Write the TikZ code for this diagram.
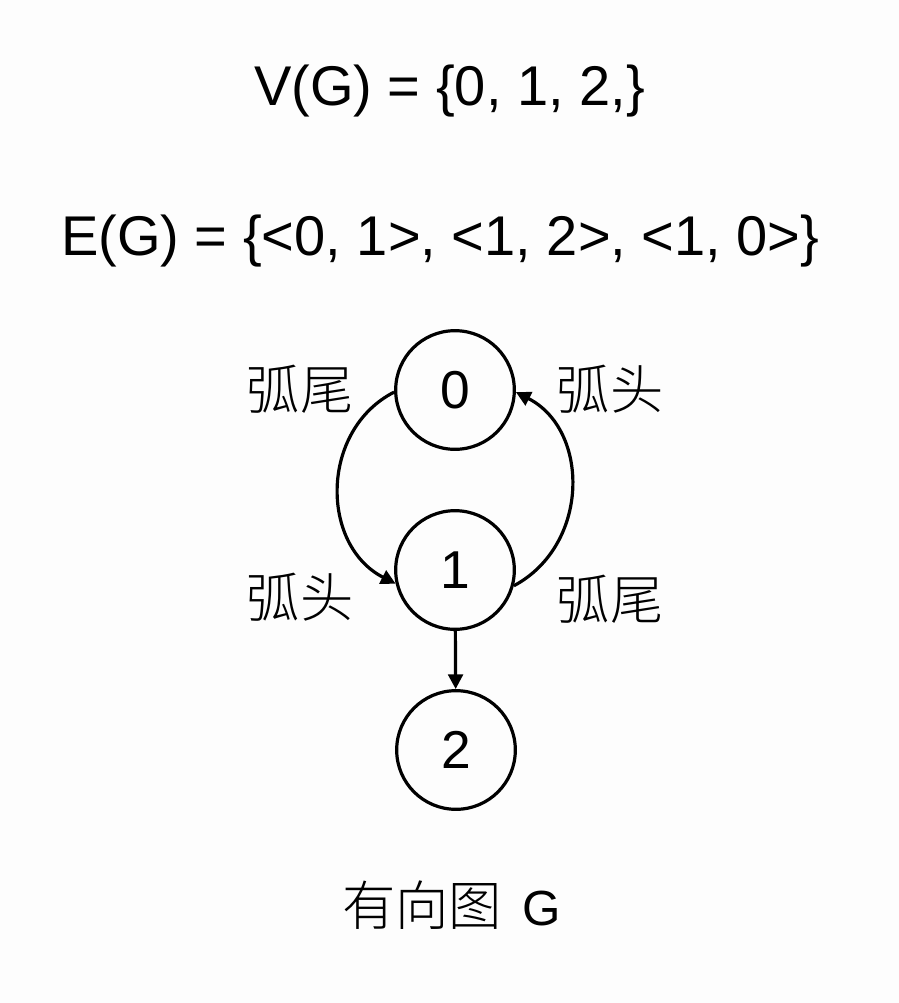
\documentclass[tikz,border=0pt]{standalone}
\usepackage{fontspec}
\setmainfont{Liberation Sans}
\newfontfamily\cjk{Noto Sans CJK SC}[UprightFont=* Light]
\usetikzlibrary{arrows.meta}
\definecolor{bgc}{RGB}{253,253,253}
\begin{document}
\begin{tikzpicture}[x=0.75pt,y=-0.75pt,
  vtx/.style={circle,draw,line width=2.4pt,minimum size=89pt,inner sep=0pt,font=\fontsize{40}{48}\selectfont},
  lbl/.style={font=\cjk\fontsize{40}{48}\selectfont,inner sep=0pt},
  formula/.style={font=\fontsize{42}{50}\selectfont,inner sep=0pt,anchor=base west},
  edgearrow/.style={line width=2.4pt,-{Triangle[length=11pt,width=11pt]}}]
\fill[bgc] (0,0) rectangle (899,1003);
\useasboundingbox (0,0) rectangle (899,1003);

\node[formula] (vg) at (254,105) {V(G) = \{0, 1, 2,\}};
\node[formula] (eg) at (61,255) {E(G) = \{<0, 1>, <1, 2>, <1, 0>\}};

\node[vtx] (n0) at (455,390) {0};
\node[vtx] (n1) at (455,570) {1};
\node[vtx] (n2) at (456,750) {2};

\draw[edgearrow] (n0.182) .. controls (320,430) and (320,545) .. (n1.193);
\draw[edgearrow] (n1.345) .. controls (590,545) and (590,430) .. (n0.358);
\draw[edgearrow] (n1) -- (n2);

\node[lbl] (lt) at (300,389) {弧尾};
\node[lbl] (lb) at (300,597) {弧头};
\node[lbl] (rt) at (610,389) {弧头};
\node[lbl] (rb) at (610,599) {弧尾};

\node[inner sep=0pt,anchor=base west] (cap) at (342,925) {{\cjk\fontsize{40}{48}\selectfont 有向图}\hspace{15pt}{\fontsize{37}{44}\selectfont G}};
\end{tikzpicture}
\end{document}
